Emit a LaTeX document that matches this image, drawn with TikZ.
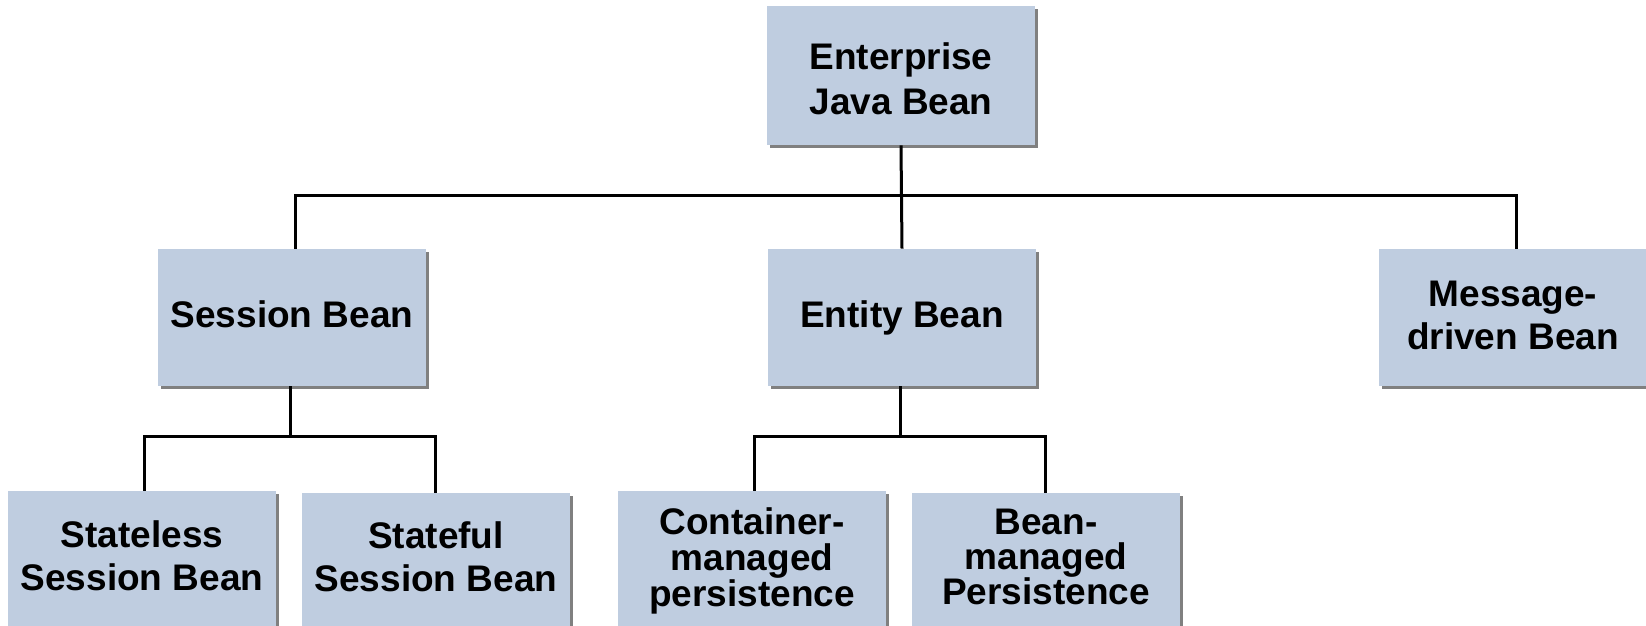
\documentclass[tikz,border=0pt]{standalone}
\usepackage{fontspec}
\setmainfont{Liberation Sans}
\usetikzlibrary{shadows}
\definecolor{boxblue}{RGB}{191,205,224}
\definecolor{shadowgray}{RGB}{128,128,128}
\newcommand{\sh}[2]{\raisebox{#1}[\height][\depth]{#2}}
\tikzset{
  beanbox/.style={draw=none, fill=boxblue, minimum width=134pt, minimum height=68.5pt,
    inner sep=0pt, align=center, font=\fontsize{18.5}{21.5}\selectfont\bfseries,
    drop shadow={shadow xshift=1.5pt, shadow yshift=-1.5pt, fill=shadowgray, opacity=1}},
  conn/.style={draw=black, line width=1.5pt}
}
\begin{document}
\begin{tikzpicture}[x=0.5pt, y=-0.5pt]
\clip (0,0) rectangle (1646,626);
\fill[white] (0,0) rectangle (1646,626);
\node[beanbox, minimum height=69.5pt, font=\fontsize{18.5}{22.5}\selectfont\bfseries] (ejb) at (901,75.5)
  {\sh{-1.6pt}{Enterprise}\\\sh{-1.6pt}{Java Bean}};
\node[beanbox] (session) at (292,317.5) {\sh{1.6pt}{Session Bean}};
\node[beanbox] (entity) at (902,317.5) {Entity Bean};
\node[beanbox] (msg) at (1513,317.5) {\sh{0.8pt}{Message-}\\\sh{0.8pt}{driven Bean}};
\node[beanbox] (stateless) at (142,559.5) {\sh{2.1pt}{Stateless}\\\sh{2.1pt}{Session Bean}};
\node[beanbox] (stateful) at (436,561.5) {\sh{2.6pt}{Stateful}\\\sh{2.6pt}{Session Bean}};
\node[beanbox, font=\fontsize{18.5}{18}\selectfont\bfseries] (container) at (752,559.5)
  {\sh{-0.8pt}{Container-}\\\sh{-0.8pt}{managed}\\\sh{-0.8pt}{persistence}};
\node[beanbox, font=\fontsize{18.5}{17.5}\selectfont\bfseries] (beanmp) at (1046,561.5)
  {\sh{2.4pt}{Bean-}\\\sh{2.4pt}{managed}\\\sh{2.4pt}{Persistence}};
\coordinate (bus1) at (0,196);
\coordinate (bus2) at (0,436);
\coordinate (bus3) at (0,436);
\draw[conn] (ejb.south) -- (entity.north);
\draw[conn] ([xshift=1.5pt]session.north) -- ([xshift=1.5pt]session.north |- bus1)
  -- ([xshift=1.5pt]msg.north |- bus1) -- ([xshift=1.5pt]msg.north);
\draw[conn] ([xshift=-1pt]session.south) -- ([xshift=-1pt]session.south |- bus2);
\draw[conn] ([xshift=1pt]stateless.north) -- ([xshift=1pt]stateless.north |- bus2)
  -- ([xshift=-0.5pt]stateful.north |- bus2) -- ([xshift=-0.5pt]stateful.north);
\draw[conn] ([xshift=-1pt]entity.south) -- ([xshift=-1pt]entity.south |- bus3);
\draw[conn] ([xshift=1pt]container.north) -- ([xshift=1pt]container.north |- bus3)
  -- ([xshift=-0.5pt]beanmp.north |- bus3) -- ([xshift=-0.5pt]beanmp.north);
\end{tikzpicture}
\end{document}
